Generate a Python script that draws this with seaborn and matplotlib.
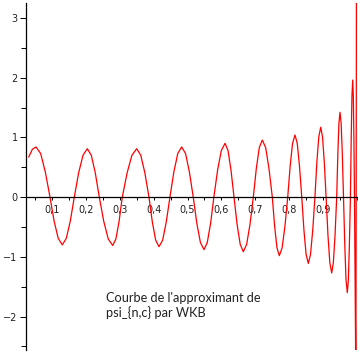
import numpy as np
import pandas as pd
import seaborn as sns
import matplotlib.pyplot as plt
from matplotlib.ticker import FixedLocator, MultipleLocator

# points (extrema, zero crossings and slope points)
x_vals = [0.0302, 0.0410, 0.0518, 0.0656, 0.0794, 0.0932,
          0.1053, 0.1175, 0.1296, 0.1414, 0.1533, 0.1651,
          0.1779, 0.1908, 0.2036, 0.2154, 0.2272, 0.2390,
          0.2522, 0.2655, 0.2787, 0.2882, 0.2976, 0.3071,
          0.3213, 0.3355, 0.3497, 0.3618, 0.3739, 0.3860,
          0.3959, 0.4058, 0.4157, 0.4265, 0.4372, 0.4480,
          0.4596, 0.4712, 0.4828, 0.4942, 0.5056, 0.5170,
          0.5276, 0.5382, 0.5488, 0.5585, 0.5683, 0.5780,
          0.5890, 0.6000, 0.6110, 0.6199, 0.6287, 0.6376,
          0.6468, 0.6559, 0.6651, 0.6750, 0.6848, 0.6947,
          0.7036, 0.7124, 0.7213, 0.7312, 0.7410, 0.7509,
          0.7578, 0.7647, 0.7716, 0.7799, 0.7882, 0.7965,
          0.8037, 0.8108, 0.8180, 0.8247, 0.8313, 0.8380,
          0.8445, 0.8509, 0.8574, 0.8639, 0.8705, 0.8770,
          0.8827, 0.8884, 0.8941, 0.8994, 0.9047, 0.9100,
          0.9155, 0.9211, 0.9266, 0.9315, 0.9365, 0.9414,
          0.9447, 0.9479, 0.9512, 0.9546, 0.9581, 0.9615,
          0.9653, 0.9690, 0.9728, 0.9759, 0.9789, 0.9820,
          0.9843, 0.9865, 0.9888, 0.9905, 0.9923, 0.9940,
          0.9982, 1.0000]
y_vals = [0.67, 0.80, 0.84, 0.73, 0.42, 0.0,
          -0.40, -0.69, -0.80, -0.69, -0.40, 0.0,
          0.405, 0.70, 0.81, 0.70, 0.405, 0.0,
          -0.405, -0.70, -0.81, -0.70, -0.405, 0.0,
          0.405, 0.70, 0.81, 0.70, 0.405, 0.0,
          -0.415, -0.72, -0.83, -0.72, -0.415, 0.0,
          0.42, 0.73, 0.84, 0.73, 0.42, 0.0,
          -0.44, -0.76, -0.88, -0.76, -0.44, 0.0,
          0.45, 0.78, 0.90, 0.78, 0.45, 0.0,
          -0.46, -0.79, -0.915, -0.79, -0.46, 0.0,
          0.48, 0.83, 0.955, 0.83, 0.48, 0.0,
          -0.49, -0.85, -0.98, -0.85, -0.49, 0.0,
          0.52, 0.90, 1.04, 0.90, 0.52, 0.0,
          -0.555, -0.96, -1.11, -0.96, -0.555, 0.0,
          0.585, 1.01, 1.17, 1.01, 0.585, 0.0,
          -0.635, -1.10, -1.27, -1.10, -0.635, 0.0,
          0.71, 1.23, 1.42, 1.23, 0.71, 0.0,
          -0.80, -1.39, -1.60, -1.39, -0.80, 0.0,
          0.98, 1.70, 1.96, 1.70, 0.98, 0.0,
          -3.2, 4.5]

x_ticks = [0.1, 0.2, 0.3, 0.4, 0.5, 0.6, 0.7, 0.8, 0.9]
x_labels = ["0,1", "0,2", "0,3", "0,4", "0,5", "0,6", "0,7", "0,8", "0,9"]
y_ticks = [-2, -1, 0, 1, 2, 3]
caption = "Courbe de l'approximant de\npsi_{n,c} par WKB"

df = pd.DataFrame({"x": x_vals, "y": y_vals})

sns.set_style("white")
W, H = 358, 353
fig = plt.figure(figsize=(W / 100, H / 100), dpi=100)
ax = fig.add_axes([26 / W, 3 / H, (W - 26) / W, (350 - 3) / H])

sns.lineplot(data=df, x="x", y="y", sort=False, estimator=None,
             color="#ff0000", linewidth=0.9, ax=ax)

ax.set_xlim(0.0222, 1.0044)
ax.set_ylim(-2.56, 3.25)

for s in ["top", "right"]:
    ax.spines[s].set_visible(False)
ax.spines["bottom"].set_position(("data", 0))
for s in ["left", "bottom"]:
    ax.spines[s].set_color("black")
    ax.spines[s].set_linewidth(0.9)

ax.xaxis.set_major_locator(FixedLocator(x_ticks))
ax.set_xticklabels(x_labels)
ax.xaxis.set_minor_locator(MultipleLocator(0.05))
ax.yaxis.set_major_locator(FixedLocator(y_ticks))
ax.yaxis.set_minor_locator(MultipleLocator(0.5))

ax.tick_params(axis="x", which="both", bottom=True, direction="out", length=2.5,
               width=0.7, color="black", labelsize=7, pad=3.5, labelcolor="#222222")
ax.tick_params(axis="y", which="major", left=True, direction="out", length=4.5,
               width=0.7, color="black", labelsize=7, pad=1.5, labelcolor="#222222")
ax.tick_params(axis="y", which="minor", left=True, direction="out", length=3.5,
               width=0.7, color="black")
ax.set_xlabel("")
ax.set_ylabel("")

fig.text(105.5 / W, 1 - 292 / H, caption, ha="left", va="top",
         fontsize=9.2, family="Lato", color="#222222", linespacing=1.15)

fig.savefig("out.png", dpi=100)
